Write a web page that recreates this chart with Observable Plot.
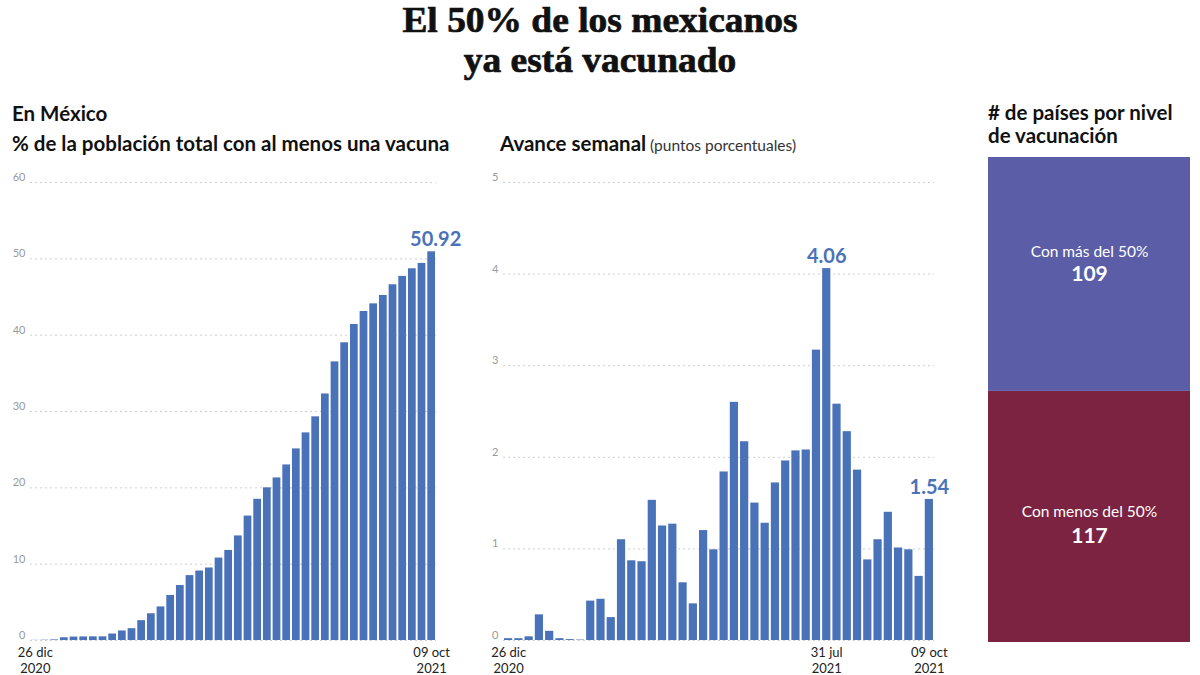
<!DOCTYPE html>
<html><head><meta charset="utf-8">
<script src="https://cdn.jsdelivr.net/npm/d3@7"></script>
<script src="https://cdn.jsdelivr.net/npm/@observablehq/plot@0.6"></script>
<style>
body{margin:0;width:1200px;height:675px;overflow:hidden;background:#fff;position:relative;font-family:Lato,sans-serif;color:#111}
.abs{position:absolute;white-space:nowrap}
.title{left:0;width:1200px;text-align:center;font-family:"Liberation Serif",serif;font-weight:bold;font-size:36px;line-height:40px;color:#111;-webkit-text-stroke:0.7px #111}
.title span{display:inline-block;transform:scaleX(1.04);transform-origin:center}
.sub{font-weight:bold;font-size:20.5px;color:#111}
.light{font-weight:normal;font-size:15.5px;color:#333}
</style></head>
<body>
<div class="abs title" style="top:0px"><span>El 50% de los mexicanos</span></div>
<div class="abs title" style="top:40px"><span>ya está vacunado</span></div>
<div class="abs sub" style="left:12px;top:101px">En México</div>
<div class="abs sub" style="left:12px;top:131px">% de la población total con al menos una vacuna</div>
<div class="abs sub" style="left:500px;top:131px">Avance semanal<span class="light"> (puntos porcentuales)</span></div>
<div class="abs sub" style="left:988px;top:101px;line-height:23px">
# de países por nivel<br>de vacunación</div>
<div id="c1" class="abs" style="left:0;top:160px"></div>
<div id="c2" class="abs" style="left:470px;top:160px"></div>
<div id="c3" class="abs" style="left:960px;top:150px"></div>
<script>
// Weekly dates (categories)
const weeks = ["2020-12-26","2021-01-02","2021-01-09","2021-01-16","2021-01-23","2021-01-30",
"2021-02-06","2021-02-13","2021-02-20","2021-02-27","2021-03-06","2021-03-13","2021-03-20","2021-03-27",
"2021-04-03","2021-04-10","2021-04-17","2021-04-24","2021-05-01","2021-05-08","2021-05-15","2021-05-22",
"2021-05-29","2021-06-05","2021-06-12","2021-06-19","2021-06-26","2021-07-03","2021-07-10","2021-07-17",
"2021-07-24","2021-07-31","2021-08-07","2021-08-14","2021-08-21","2021-08-28","2021-09-04","2021-09-11",
"2021-09-18","2021-09-25","2021-10-02","2021-10-09"];
// % of population with at least one dose (cumulative)
const cumulative = [0.02,0.04,0.08,0.36,0.45,0.47,0.48,0.48,0.85,1.25,1.55,2.6,3.5,4.4,5.9,7.2,8.5,9.1,9.5,10.8,
11.8,13.7,16.3,18.5,20.0,21.3,23.0,25.1,27.2,29.3,32.3,36.5,39.0,41.4,43.1,44.1,45.2,46.6,47.7,48.7,49.4,50.92];
// Weekly advance (percentage points)
const weekly = [0.02,0.02,0.04,0.28,0.10,0.02,0.01,0.005,0.43,0.45,0.25,1.10,0.87,0.86,1.53,1.25,1.27,0.63,0.40,1.20,
0.99,1.84,2.60,2.17,1.50,1.28,1.72,1.96,2.07,2.08,3.17,4.06,2.58,2.28,1.86,0.88,1.10,1.40,1.01,0.99,0.70,1.54];
// Axis ticks
const leftYTicks = [0,10,20,30,40,50,60];
const midYTicks = [0,1,2,3,4,5];
const leftXTicks = ["2020-12-26","2021-10-09"];
const midXTicks = ["2020-12-26","2021-07-31","2021-10-09"];
const xTickLabels = {"2020-12-26":"26 dic\n2020","2021-07-31":"31 jul\n2021","2021-10-09":"09 oct\n2021"};
const highlightLeft = ["2021-10-09"];
const highlightMid = ["2021-07-31","2021-10-09"];
// Countries by vaccination level
const groups = ["Con menos del 50%","Con más del 50%"];
const counts = [117,109];

const BLUE = "#4a72b9";
const cumData = weeks.map((w,i)=>({week:w,value:cumulative[i]}));
const wkData = weeks.map((w,i)=>({week:w,value:weekly[i]}));
const font = {fontFamily:"Lato, sans-serif", background:"transparent", overflow:"visible"};

const gridOpts = {stroke:"#cfcfcf", strokeOpacity:1, strokeDasharray:"2,3", strokeWidth:1};
const yAxOpts = {tickSize:0, tickPadding:5, dy:-5, fontSize:11, fill:"#9a9a9a", label:null, tickFormat:d=>String(d)};
const xAxOpts = {tickSize:0, tickPadding:5, fontSize:13, fill:"#222", label:null, lineHeight:1.25,
  tickFormat:d=>xTickLabels[d]};
const valLabel = {fill:BLUE, fontWeight:"bold", fontSize:20, dy:-12};

const c1 = Plot.plot({
  width:470, height:515, marginLeft:30, marginRight:34, marginTop:22, marginBottom:35,
  style:font,
  x:{type:"band", domain:weeks, paddingInner:0.2, paddingOuter:0.1, round:false, axis:null},
  y:{domain:[0,60], axis:null},
  marks:[
    Plot.gridY(leftYTicks, gridOpts),
    Plot.axisY(leftYTicks, yAxOpts),
    Plot.barY(cumData, {x:"week", y:"value", fill:BLUE}),
    Plot.axisX(leftXTicks, xAxOpts),
    Plot.text(cumData.filter(d=>highlightLeft.includes(d.week)), {x:"week", y:"value", text:d=>d.value.toFixed(2), dx:4, ...valLabel})
  ]
});
document.getElementById("c1").appendChild(c1);

const c2 = Plot.plot({
  width:490, height:515, marginLeft:33, marginRight:26, marginTop:22, marginBottom:35,
  style:font,
  x:{type:"band", domain:weeks, paddingInner:0.2, paddingOuter:0.1, round:false, axis:null},
  y:{domain:[0,5], axis:null},
  marks:[
    Plot.gridY(midYTicks, gridOpts),
    Plot.axisY(midYTicks, yAxOpts),
    Plot.barY(wkData, {x:"week", y:"value", fill:BLUE}),
    Plot.axisX(midXTicks, xAxOpts),
    Plot.text(wkData.filter(d=>highlightMid.includes(d.week)), {x:"week", y:"value", text:d=>d.value.toFixed(2), ...valLabel})
  ]
});
document.getElementById("c2").appendChild(c2);

const rData = groups.map((g,i)=>({group:g, count:counts[i]}));
const stackOpts = {x:()=>"todos", y:"count"};
const isTop = d=>d.group===groups[1];
const isBottom = d=>d.group===groups[0];
const c3 = Plot.plot({
  width:240, height:500, marginLeft:28, marginRight:10, marginTop:7, marginBottom:8,
  style:font,
  x:{type:"band", padding:0, axis:null},
  y:{domain:[0,d3.sum(counts)], axis:null},
  color:{domain:groups, range:["#7b2340","#5b5ea6"]},
  marks:[
    Plot.barY(rData, {...stackOpts, fill:"group"}),
    Plot.text(rData, Plot.filter(isTop, Plot.stackY({...stackOpts, text:"group", fill:"white", fontSize:15.5, dy:-22}))),
    Plot.text(rData, Plot.filter(isTop, Plot.stackY({...stackOpts, text:"count", fill:"white", fontSize:21, fontWeight:"bold", dy:0}))),
    Plot.text(rData, Plot.filter(isBottom, Plot.stackY({...stackOpts, text:"group", fill:"white", fontSize:15.5, dy:-5}))),
    Plot.text(rData, Plot.filter(isBottom, Plot.stackY({...stackOpts, text:"count", fill:"white", fontSize:21, fontWeight:"bold", dy:19})))
  ]
});
document.getElementById("c3").appendChild(c3);
</script>
</body></html>
